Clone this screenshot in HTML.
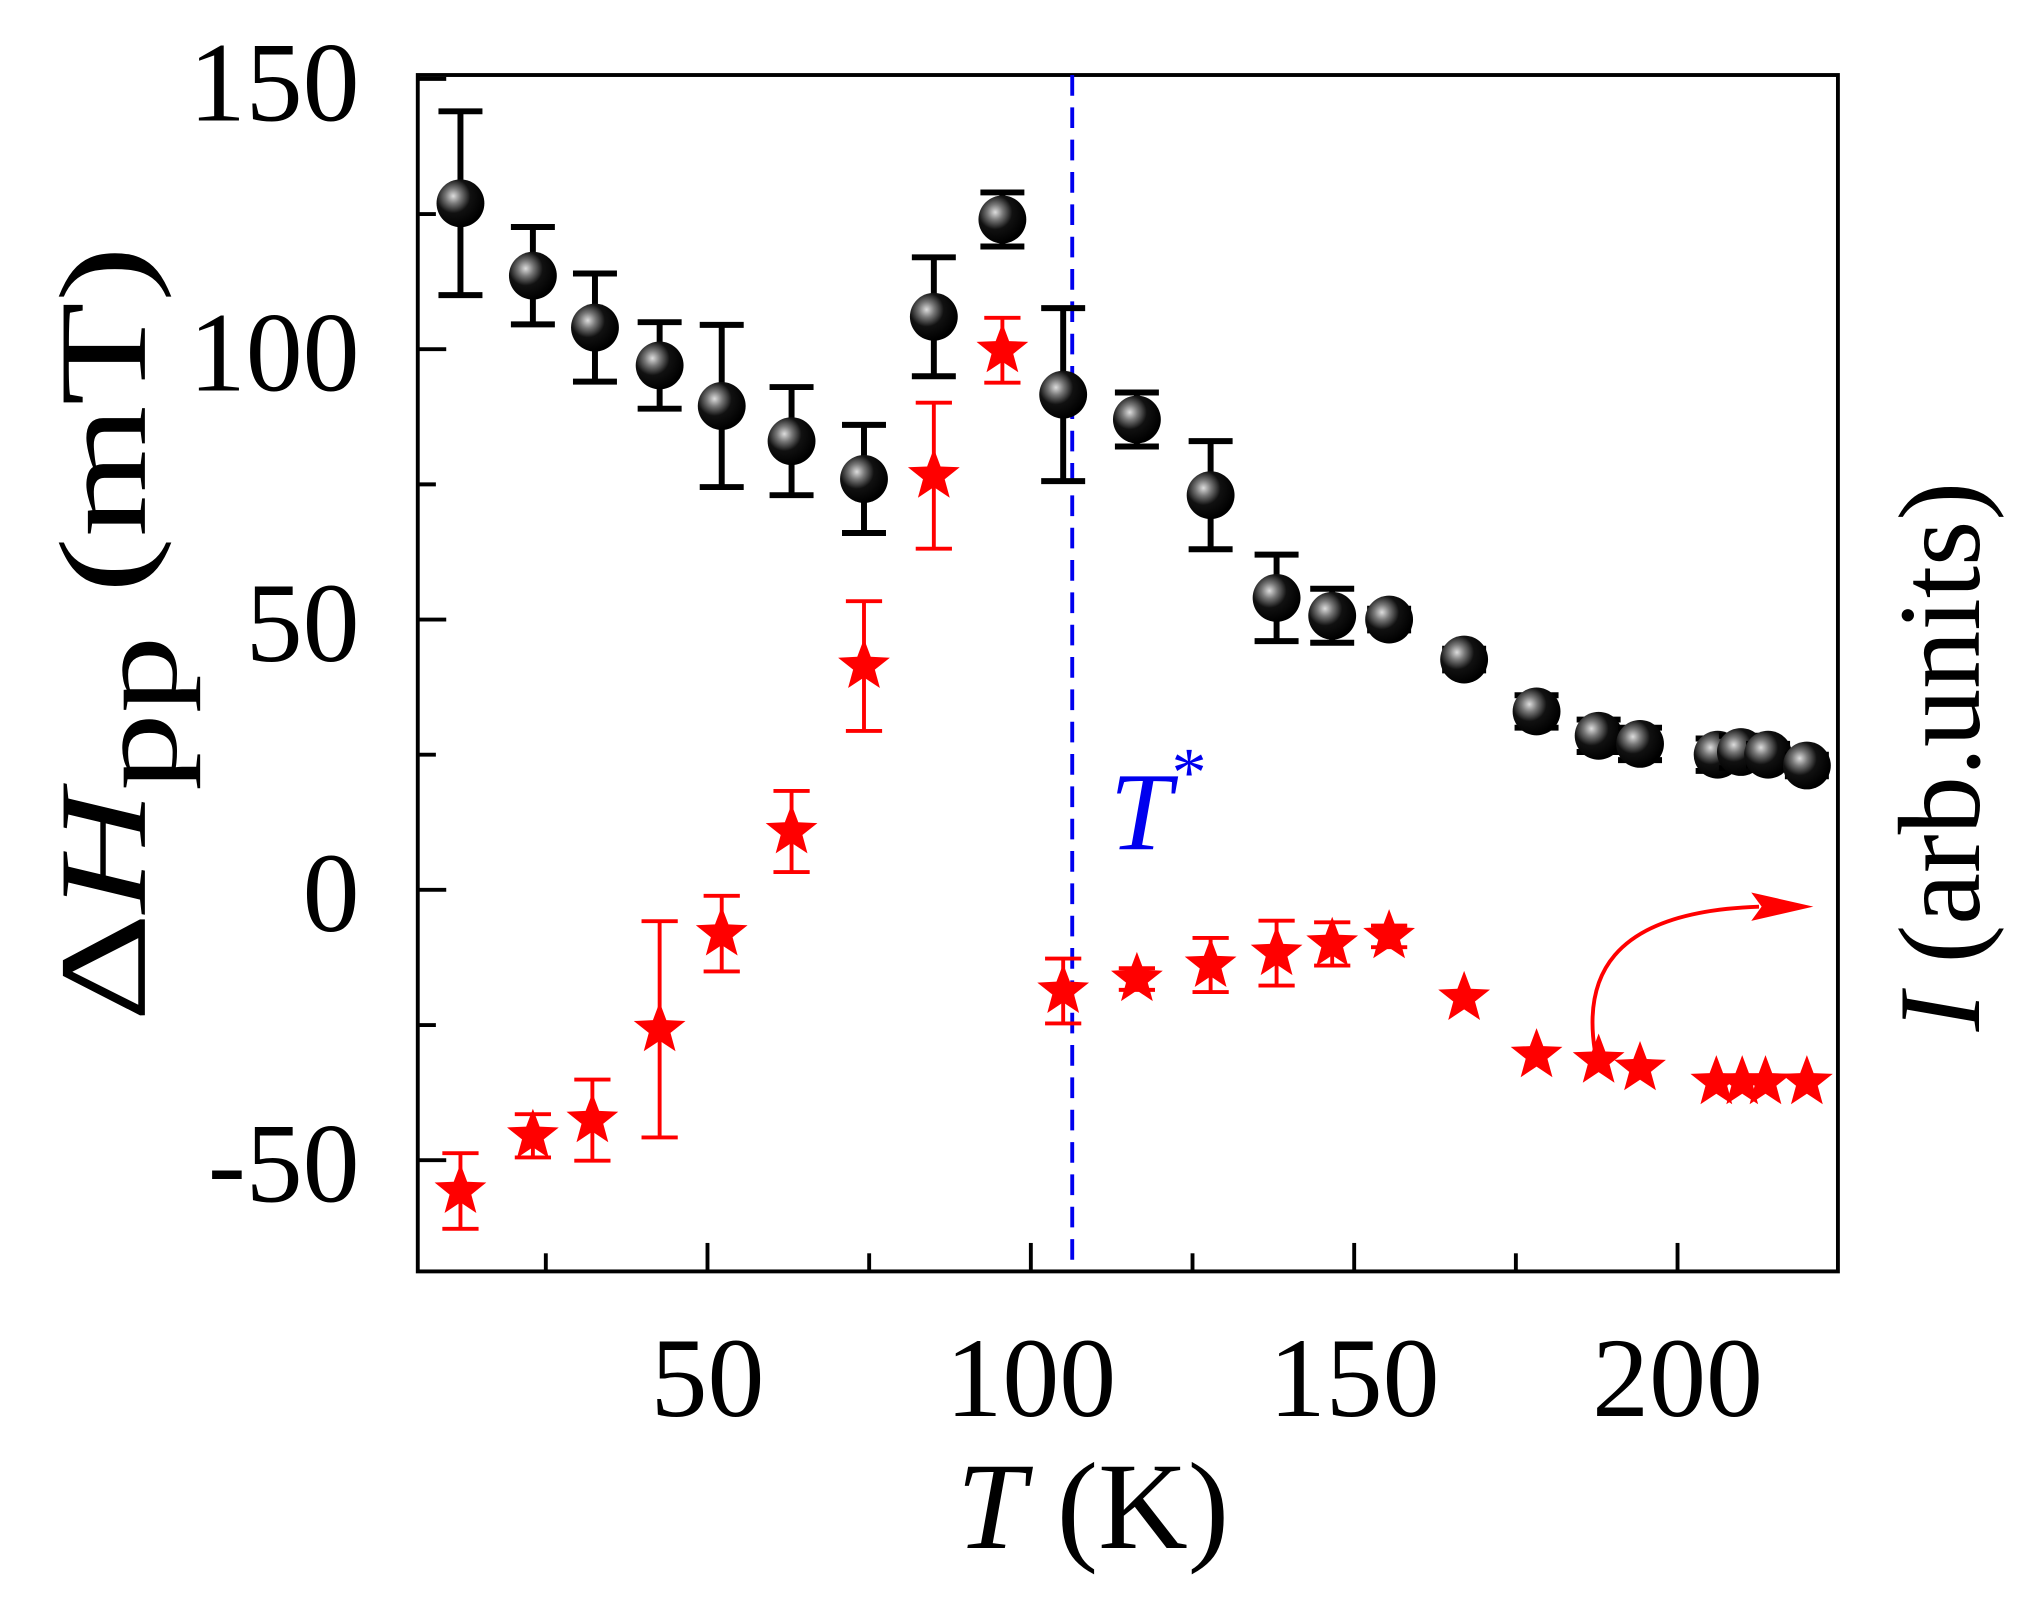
<!DOCTYPE html>
<html><head><meta charset="utf-8"><style>html,body{margin:0;padding:0;background:#fff}svg{display:block}</style></head>
<body>
<svg id="chart" width="2019" height="1617" viewBox="0 0 1561 1250.2" xmlns="http://www.w3.org/2000/svg">
<defs>
<radialGradient id="ball" cx="0.35" cy="0.35" r="0.65">
<stop offset="0" stop-color="#ddd"/><stop offset="0.25" stop-color="#777"/><stop offset="0.55" stop-color="#111"/><stop offset="1" stop-color="#000"/>
</radialGradient>
</defs>
<g id="plot"></g>
</svg>
<script>
const blackT=[11.8,23,32.6,42.6,52.2,63,74.2,85,95.6,105,116.4,127.8,138,146.6,155.4,167,178.2,187.8,194.2,206.2,209.8,214,220];
const blackV=[127,113.6,104,97,89.5,83,76,106,124,91.6,87,73,54,50.7,50,42.6,33,28.5,27,25,25.5,25,23];
const blackE=[17,9,10,8,15,10,10,11,5,16,5,10,8,5,2,2,3,3,3,3,3,2,2];
const redT=[11.8,23,32.2,42.6,52.2,63,74.2,85,95.6,105,116.4,127.8,138,146.6,155.4,167,178.2,187.8,194.2,206,210,213.6,220];
const redV=[-55.7,-45.5,-42.6,-25.8,-8.1,10.8,41.4,76.6,99.8,-18.7,-16.5,-13.9,-11.7,-10,-8.6,-20,-30.6,-31.6,-33,-35.6,-35.6,-35.6,-35.6];
const redE=[7,4,7.5,20,7,7.5,12,13.5,6,6,2,5,6,4,2,0,0,0,0,0,0,0,0];
const xTicks=[50,100,150,200];
const yTicks=[-50,0,50,100,150];
const tStar=106.4;

const L=323,R=1421,T=58,B=983;
const xs=t=>297+t*5.0;
const ys=v=>688-v*4.18;
const NS='http://www.w3.org/2000/svg';
const g=document.getElementById('plot');
function mk(tag,attrs,parent){const e=document.createElementNS(NS,tag);for(const k in attrs)e.setAttribute(k,attrs[k]);(parent||g).appendChild(e);return e;}

let fr=mk('rect',{x:L,y:T,width:R-L,height:B-T,fill:'none',stroke:'#000','stroke-width':3});


for(let t=25;t<=220;t+=25){const maj=t%50===0;const tk=mk('line',{x1:xs(t),x2:xs(t),y1:B,y2:B-(maj?22:14),stroke:'#000','stroke-width':3});

}
xTicks.forEach(t=>{const e=mk('text',{x:xs(t),y:1095,'font-family':'Liberation Serif, serif','font-size':88,'text-anchor':'middle'});e.textContent=t;

});
for(let v=-50;v<=150;v+=25){const maj=v%50===0;const tk=mk('line',{x1:L,x2:L+(maj?22:14),y1:ys(v),y2:ys(v),stroke:'#000','stroke-width':3});

}
yTicks.forEach(v=>{const e=mk('text',{x:278,y:ys(v)+32,'font-family':'Liberation Serif, serif','font-size':88,'text-anchor':'end'});e.textContent=v;

});
let xt=mk('text',{x:845,y:1197,'font-family':'Liberation Serif, serif','font-size':96,'text-anchor':'middle'});
xt.innerHTML='<tspan font-style="italic">T</tspan> (K)';


let yt=mk('text',{transform:'translate(112,490) rotate(-90)','font-family':'Liberation Serif, serif','font-size':96,'text-anchor':'middle',textLength:600,lengthAdjust:'spacingAndGlyphs'});
yt.innerHTML='Δ<tspan font-style="italic">H</tspan><tspan dy="24" font-size="88">pp</tspan><tspan dy="-24"> (mT)</tspan>';


let rt=mk('text',{transform:'translate(1530,585) rotate(-90)','font-family':'Liberation Serif, serif','font-size':90,'text-anchor':'middle'});
rt.innerHTML='<tspan font-style="italic">I</tspan> (arb.units)';


let dl=mk('line',{x1:xs(tStar),x2:xs(tStar),y1:T,y2:B,stroke:'#0000ee','stroke-width':3,'stroke-dasharray':'16,9'});


let ts=mk('text',{x:858,y:657,'font-family':'Liberation Serif, serif','font-size':86,'font-style':'italic',fill:'#0000ee'});
ts.innerHTML='T<tspan dy="-42" font-size="54" font-style="normal">*</tspan>';


let ar=mk('path',{d:'M1233,812 C1225,760 1240,705 1360,701',fill:'none',stroke:'#ff0000','stroke-width':3});


let ah=mk('polygon',{points:'1402,701 1354,690 1362,701 1354,712',fill:'#ff0000'});



function errbar(x,v,e,col){if(e<=0)return;const y1=ys(v+e),y2=ys(v-e);
const gg=mk('g',{stroke:col,'stroke-width':col==='#000'?4.6:3});


mk('line',{x1:x,x2:x,y1:y1,y2:y2},gg);
const w=col==='#000'?17:14;
mk('line',{x1:x-w,x2:x+w,y1:y1,y2:y1},gg);mk('line',{x1:x-w,x2:x+w,y1:y2,y2:y2},gg);}
function star(cx,cy,r){let p=[];for(let i=0;i<10;i++){const a=-Math.PI/2+i*Math.PI/5;const rr=i%2?r*0.42:r;p.push((cx+rr*Math.cos(a)).toFixed(1)+','+(cy+rr*Math.sin(a)).toFixed(1));}return p.join(' ');}

redT.forEach((t,i)=>{const x=xs(t);errbar(x,redV[i],redE[i],'#ff0000');
const s=mk('polygon',{points:star(x,ys(redV[i]),21),fill:'#ff0000'});

});
blackT.forEach((t,i)=>{const x=xs(t);errbar(x,blackV[i],blackE[i],'#000');
const c=mk('circle',{cx:x,cy:ys(blackV[i]),r:18.5,fill:'url(#ball)'});

});
</script>
</body></html>
